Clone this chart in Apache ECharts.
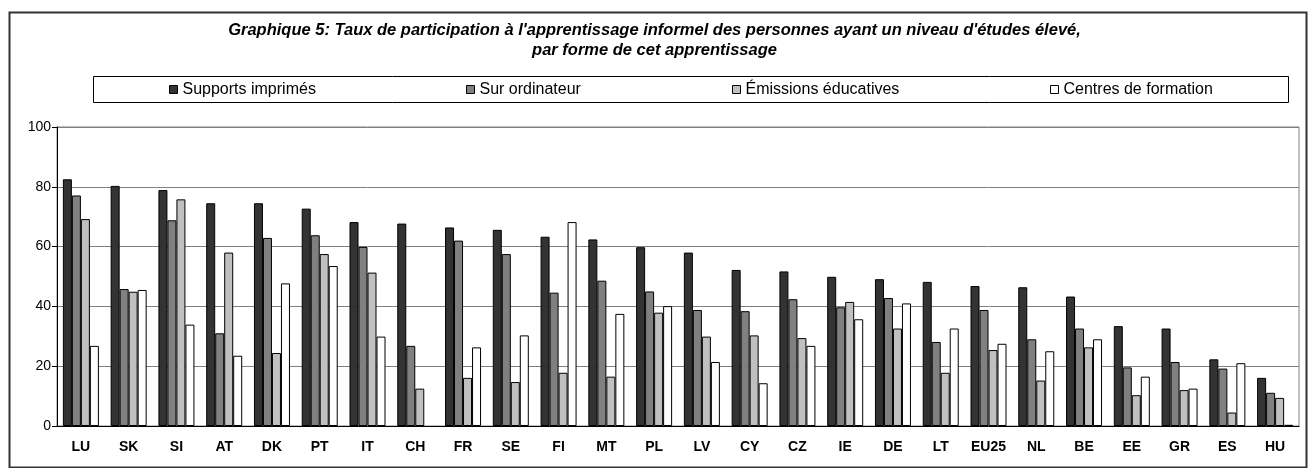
<!DOCTYPE html>
<html>
<head>
<meta charset="utf-8">
<script src="https://cdn.jsdelivr.net/npm/echarts@6/dist/echarts.min.js"></script>
<style>
html,body{margin:0;padding:0;background:#fff;}
#chart{width:1309px;height:468px;}
</style>
</head>
<body>
<div id="chart"></div>
<script>
// pays, dans l'ordre du graphique
const categories = ['LU','SK','SI','AT','DK','PT','IT','CH','FR','SE','FI','MT','PL','LV','CY','CZ','IE','DE','LT','EU25','NL','BE','EE','GR','ES','HU'];
const seriesNames = ['Supports imprimés','Sur ordinateur','Émissions éducatives','Centres de formation'];
const printed = [82.5,80.3,78.9,74.5,74.5,72.7,68.2,67.7,66.4,65.6,63.3,62.4,59.8,58.0,52.2,51.7,49.9,49.1,48.2,46.8,46.4,43.3,33.4,32.6,22.3,16.1];
const computer = [77.1,45.8,68.8,31.0,62.9,63.8,59.9,26.8,62.0,57.5,44.6,48.6,45.0,38.8,38.4,42.4,39.7,42.8,28.1,38.8,29.0,32.6,19.6,21.4,19.2,11.1];
const broadcasts = [69.2,44.9,75.8,58.0,24.4,57.5,51.3,12.5,16.1,14.7,17.8,16.5,37.9,29.9,30.3,29.4,41.5,32.6,17.8,25.4,15.2,26.3,10.3,12.0,4.5,9.4];
const centres = [26.8,45.5,33.9,23.5,47.7,53.5,29.9,null,26.3,30.3,68.2,37.5,40.1,21.4,14.3,26.8,35.7,41.0,32.6,27.5,25.0,29.0,16.5,12.5,21.0,0.4];
const yTicks = [0,20,40,60,80,100];

const chart = echarts.init(document.getElementById('chart'));
const font = "'Liberation Sans', Arial, sans-serif";
const colors = ['#333333','#808080','#c0c0c0','#ffffff'];
const values = [printed, computer, broadcasts, centres];
// legende repartie dans le cadre (espaces egaux entre les items)
const legendLeft = [169, 466, 732, 1050];

const option = {
    animation: false,
    backgroundColor: '#fff',
    textStyle: {fontFamily: font},
    title: {
        text: "Graphique 5: Taux de participation à l'apprentissage informel des personnes ayant un niveau d'études élevé,\npar forme de cet apprentissage",
        left: 'center',
        top: 20,
        padding: 0,
        textStyle: {
            fontFamily: font,
            fontSize: 16.5,
            fontWeight: 'bold',
            fontStyle: 'italic',
            color: '#000',
            lineHeight: 20
        }
    },
    graphic: [
        {type: 'rect', left: 7, top: 10, shape: {width: 1297, height: 455}, style: {fill: 'none', stroke: '#333', lineWidth: 2}},
        {type: 'rect', left: 93, top: 76, shape: {width: 1195, height: 26}, style: {fill: '#fff', stroke: '#000', lineWidth: 1}, z: 0}
    ],
    legend: seriesNames.map((n, i) => ({
        data: [n],
        left: legendLeft[i],
        top: 81,
        padding: 0,
        itemWidth: 8,
        itemHeight: 8,
        itemGap: 0,
        icon: 'rect',
        itemStyle: {borderColor: '#000', borderWidth: 1},
        textStyle: {fontFamily: font, fontSize: 16, color: '#000', lineHeight: 17, padding: [0,0,0,0]},
        z: 5
    })),
    grid: {
        left: 57,
        right: 10,
        top: 127,
        bottom: 42,
        show: true,
        borderColor: '#808080',
        borderWidth: 1
    },
    xAxis: {
        type: 'category',
        data: categories,
        axisLine: {lineStyle: {color: '#000', width: 1}},
        axisTick: {show: false},
        axisLabel: {fontFamily: font, fontSize: 14, fontWeight: 'bold', color: '#000', margin: 14}
    },
    yAxis: {
        type: 'value',
        min: yTicks[0],
        max: yTicks[yTicks.length - 1],
        interval: 20,
        axisLine: {show: true, lineStyle: {color: '#000'}},
        axisTick: {show: true, length: 5, lineStyle: {color: '#000'}},
        axisLabel: {fontFamily: font, fontSize: 14, color: '#000', margin: 6},
        splitLine: {lineStyle: {color: '#808080', width: 1}}
    },
    series: seriesNames.map((n, i) => ({
        name: n,
        type: 'bar',
        data: values[i],
        barWidth: 9,
        barGap: '0%',
        itemStyle: {color: colors[i], borderColor: '#000', borderWidth: 1}
    }))
};
chart.setOption(option);
</script>
</body>
</html>
